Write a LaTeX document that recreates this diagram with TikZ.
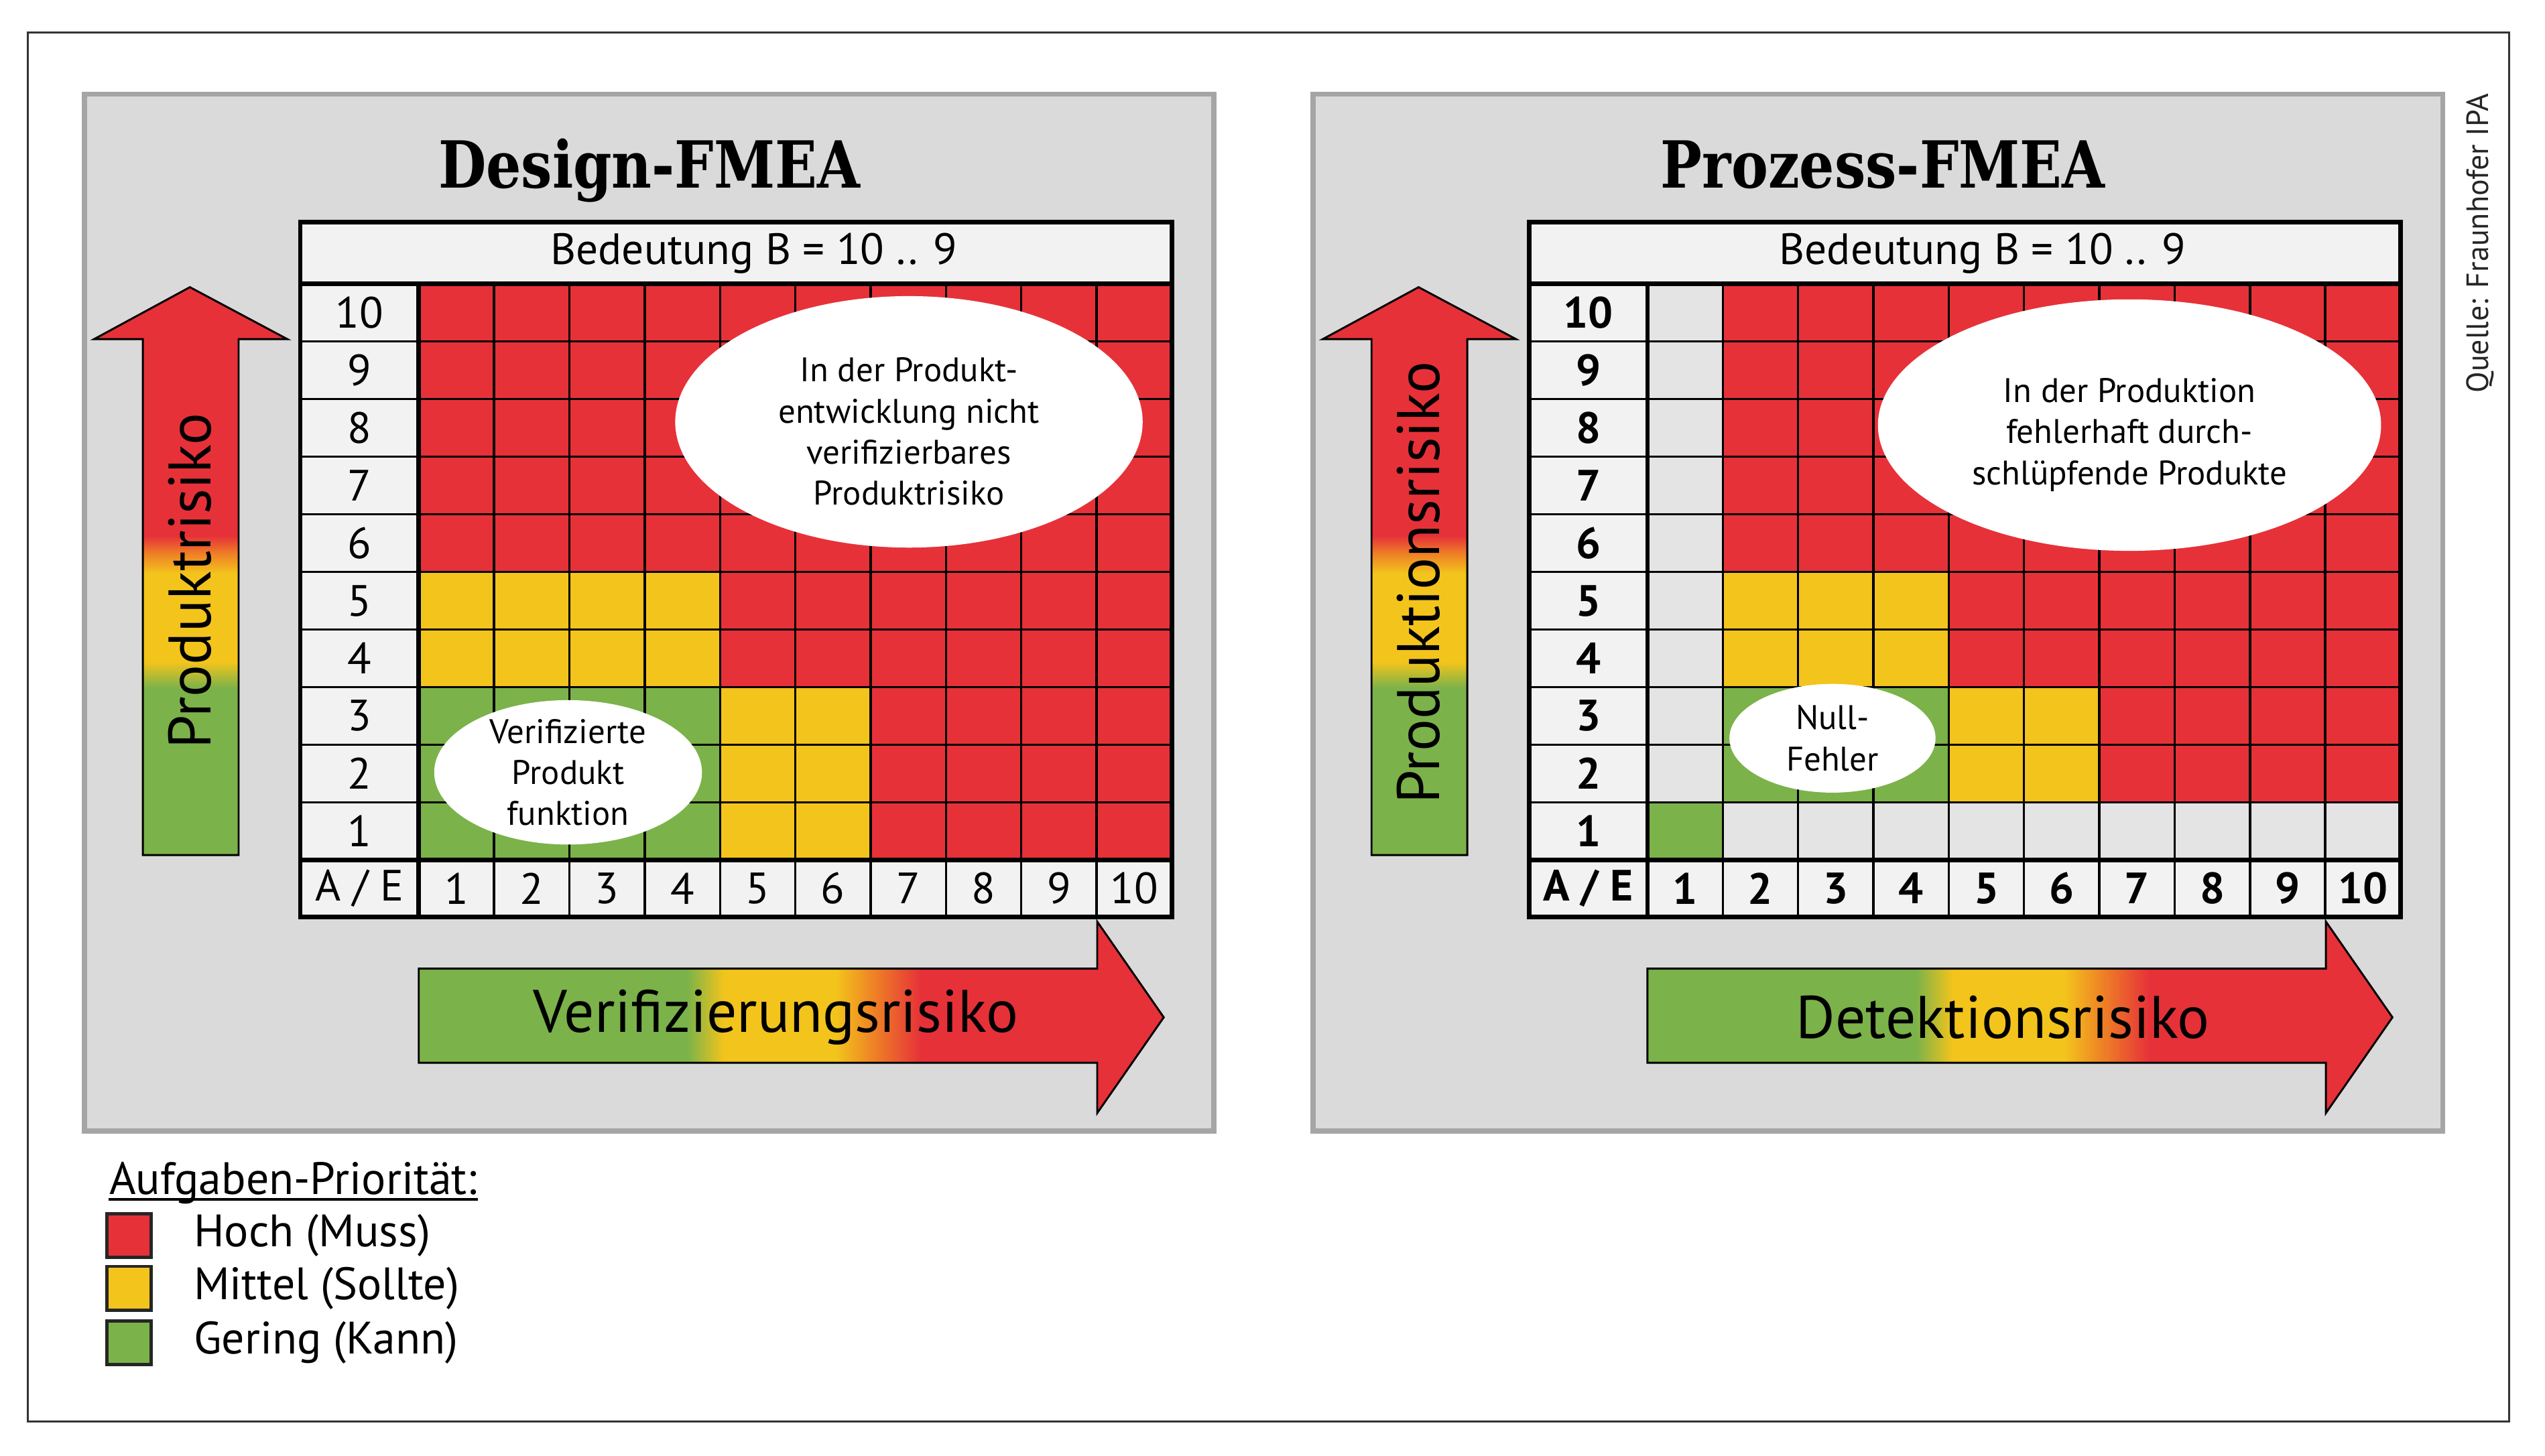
\documentclass[tikz,border=0pt]{standalone}
\usepackage{fontspec}
\setmainfont{PT Sans}
\newfontfamily\slabfont{DejaVu Serif}
\usetikzlibrary{shapes.geometric,positioning,calc}
\definecolor{riskred}{RGB}{230,49,57}
\definecolor{riskyellow}{RGB}{243,196,28}
\definecolor{riskgreen}{RGB}{123,178,74}
\definecolor{riskorange}{RGB}{238,125,38}
\definecolor{panelfill}{RGB}{218,218,218}
\definecolor{panelframe}{RGB}{165,165,165}
\definecolor{labelfill}{RGB}{242,242,242}
\definecolor{voidfill}{RGB}{228,228,228}
\pgfdeclarehorizontalshading{riskright}{100bp}{color(0bp)=(riskgreen); color(43bp)=(riskgreen); color(45.5bp)=(riskyellow); color(53bp)=(riskyellow); color(55.7bp)=(riskorange); color(58.7bp)=(riskred); color(100bp)=(riskred)}
\pgfdeclareverticalshading{riskup}{100bp}{color(0bp)=(riskgreen); color(39.7bp)=(riskgreen); color(42bp)=(riskyellow); color(49.8bp)=(riskyellow); color(51.6bp)=(riskorange); color(53.1bp)=(riskred); color(100bp)=(riskred)}

\begin{document}
\begin{tikzpicture}[
  x=0.5pt, y=-0.5pt,
  panel/.style={draw=panelframe, fill=panelfill, line width=1.6pt},
  ttl/.style={anchor=base, inner sep=0pt, xscale=0.85, font=\slabfont\bfseries\fontsize{20}{24}\selectfont},
  cellline/.style={black, line width=0.7pt},
  tableline/.style={black, line width=1.4pt},
  lbl/.style={inner sep=0pt, font=\fontsize{13.5}{16}\selectfont},
  blbl/.style={lbl, font=\bfseries\fontsize{13.5}{16}\selectfont},
  bubble/.style={ellipse, fill=white, inner sep=0pt},
  btxt/.style={align=center, inner sep=0pt, font=\fontsize{10.5}{12.65}\selectfont},
  upar/.style={shade, shading=riskup, draw=black, line width=0.6pt},
  rtar/.style={shade, shading=riskright, draw=black, line width=0.6pt},
  artxt/.style={inner sep=0pt, font=\fontsize{18.5}{22}\selectfont},
  legsq/.style={draw=black!85, line width=1pt, minimum size=13.5pt, inner sep=0pt},
  legtxt/.style={inner sep=0pt, anchor=west, font=\fontsize{14}{17}\selectfont}
]
\useasboundingbox (0,0) rectangle (1568,897);
\draw[black!80, line width=0.6pt] (17,20) rectangle (1546,876);

% Left panel: Design-FMEA
\draw[panel] (52,58) rectangle (748,697);
\node[ttl] (dtitle) at (400,116) {Design-FMEA};
\begin{scope}[shift={(258,530)}, x=23.2pt, y=17.75pt]
  \fill[labelfill] (-1.573,-0.986) rectangle (10,11.07);
  \fill[riskred] (0,0) rectangle (10,10);
  \fill[riskyellow] (0,3) rectangle (4,5) (4,0) rectangle (6,3);
  \fill[riskgreen] (0,0) rectangle (4,3);
  \foreach \i in {1,...,9} \draw[cellline] (\i,-0.986) -- (\i,10);
  \foreach \j in {1,...,9} \draw[cellline] (-1.573,\j) -- (10,\j);
  \draw[tableline] (-1.573,-0.986) rectangle (10,11.07);
  \draw[tableline] (-1.573,0) -- (10,0) (-1.573,10) -- (10,10) (0,-0.986) -- (0,10);
  \foreach \r in {1,...,10} \node[lbl] (drow\r) at (-0.786,\r-0.5) {\r};
  \foreach \c in {1,...,10} \node[lbl] (dcol\c) at (\c-0.5,-0.493) {\c};
  \node[lbl] (dae) at (-0.786,-0.493) {A / E};
  \node[lbl] (dhead) at (4.45,10.535) {Bedeutung B = 10 .. 9};
\end{scope}
\node[bubble, minimum width=144pt, minimum height=77.5pt] (dbig) at (560,260) {};
\node[btxt] (dbigtxt) at (560,266) {In der Produkt-\\entwicklung nicht\\verifizierbares\\Produktrisiko};
\node[bubble, minimum width=82.5pt, minimum height=44.5pt] (dsmall) at (350,476) {};
\node[btxt] (dsmalltxt) at (dsmall) {Verifizierte\\Produkt\\funktion};
% risk arrows
\path[upar] (88,527) -- (88,209) -- (58,209) -- (117,177) -- (177,209) -- (147,209) -- (147,527) -- cycle;
\node[artxt, rotate=90] (dup) at (117,358) {Produktrisiko};
\path[rtar] (258,597) -- (676,597) -- (676,568) -- (717,627) -- (676,686) -- (676,655) -- (258,655) -- cycle;
\node[artxt] (dright) at (478,627) {Verifizierungsrisiko};

% Right panel: Prozess-FMEA
\begin{scope}[shift={(757,0)}]
\draw[panel] (52,58) rectangle (748,697);
\node[ttl] (ptitle) at (403,116) {Prozess-FMEA};
\begin{scope}[shift={(258,530)}, x=23.2pt, y=17.75pt]
  \fill[labelfill] (-1.573,-0.986) rectangle (10,11.07);
  \fill[voidfill] (0,0) rectangle (10,10);
  \fill[riskred] (1,1) rectangle (10,10);
  \fill[riskyellow] (1,3) rectangle (4,5) (4,1) rectangle (6,3);
  \fill[riskgreen] (1,1) rectangle (4,3) (0,0) rectangle (1,1);
  \foreach \i in {1,...,9} \draw[cellline] (\i,-0.986) -- (\i,10);
  \foreach \j in {1,...,9} \draw[cellline] (-1.573,\j) -- (10,\j);
  \draw[tableline] (-1.573,-0.986) rectangle (10,11.07);
  \draw[tableline] (-1.573,0) -- (10,0) (-1.573,10) -- (10,10) (0,-0.986) -- (0,10);
  \foreach \r in {1,...,10} \node[blbl] (prow\r) at (-0.786,\r-0.5) {\r};
  \foreach \c in {1,...,10} \node[blbl] (pcol\c) at (\c-0.5,-0.493) {\c};
  \node[blbl] (pae) at (-0.786,-0.493) {A / E};
  \node[lbl] (phead) at (4.45,10.535) {Bedeutung B = 10 .. 9};
\end{scope}
\node[bubble, minimum width=155pt, minimum height=77.5pt] (pbig) at (555,262) {};
\node[btxt] (pbigtxt) at (555,268) {In der Produktion\\fehlerhaft durch-\\schlüpfende Produkte};
\node[bubble, minimum width=63.5pt, minimum height=33.5pt] (psmall) at (372,455) {};
\node[btxt] (psmalltxt) at (psmall) {Null-\\Fehler};
% risk arrows
\path[upar] (88,527) -- (88,209) -- (58,209) -- (117,177) -- (177,209) -- (147,209) -- (147,527) -- cycle;
\node[artxt, rotate=90] (pup) at (117,359) {Produktionsrisiko};
\path[rtar] (258,597) -- (676,597) -- (676,568) -- (717,627) -- (676,686) -- (676,655) -- (258,655) -- cycle;
\node[artxt] (pright) at (477,627) {Detektionsrisiko};
\end{scope}

% Legend
\node[legtxt] (legtitle) at (67,729) {Aufgaben-Priorität:};
\draw[black, line width=0.9pt] ([yshift=-1.6pt]legtitle.base west) -- ([yshift=-1.6pt]legtitle.base east);
\node[legsq, fill=riskred] (lhigh) at (79.5,761.5) {};
\node[legsq, fill=riskyellow] (lmid) at (79.5,794) {};
\node[legsq, fill=riskgreen] (llow) at (79.5,827.5) {};
\node[legtxt, right=12.5pt of lhigh] (thigh) {Hoch (Muss)};
\node[legtxt, right=12.5pt of lmid] (tmid) {Mittel (Sollte)};
\node[legtxt, right=12.5pt of llow] (tlow) {Gering (Kann)};

% Source
\node[rotate=90, inner sep=0pt, text=black!85, font=\fontsize{9.5}{11}\selectfont] (quelle) at (1528,150) {Quelle: Fraunhofer IPA};
\end{tikzpicture}
\end{document}
